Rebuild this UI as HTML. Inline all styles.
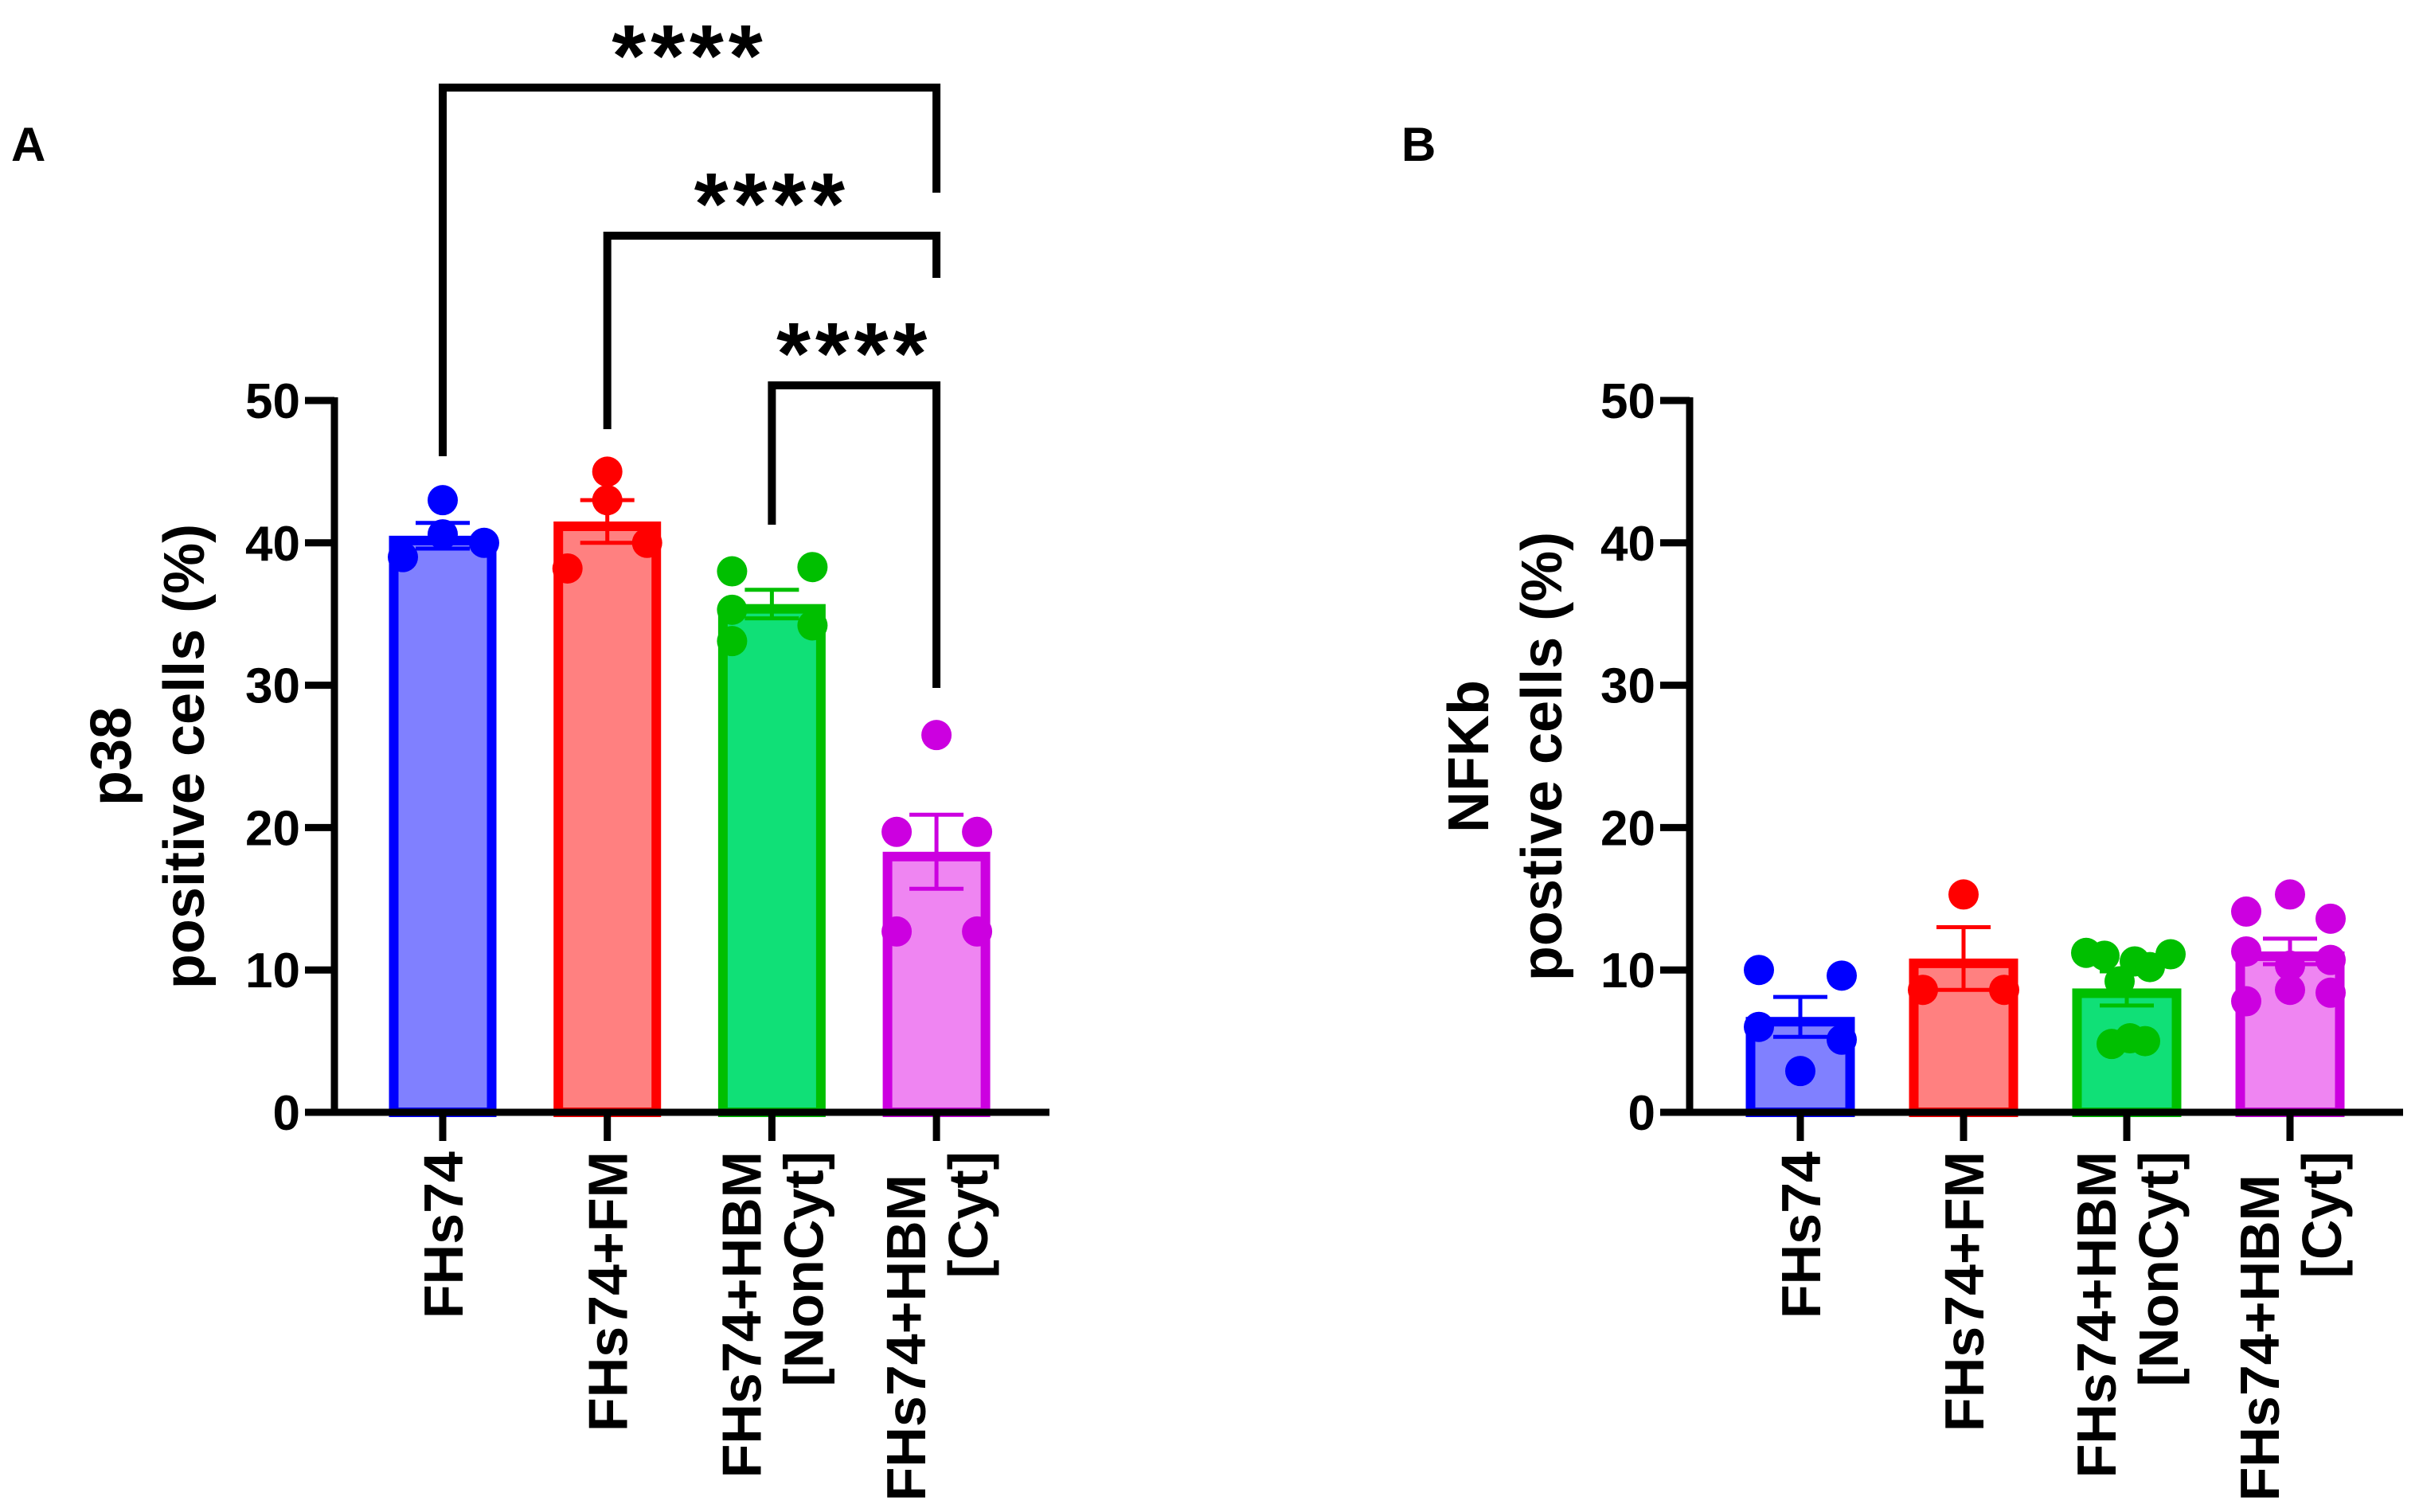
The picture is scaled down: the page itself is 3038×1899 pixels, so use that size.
<!DOCTYPE html>
<html><head><meta charset="utf-8"><style>
html,body{margin:0;padding:0;background:#fff;}
svg{display:block;font-family:"Liberation Sans",Arial,sans-serif;font-weight:bold;}
</style></head><body>
<svg id="chart" width="3038" height="1899" viewBox="0 0 3038 1899" xmlns="http://www.w3.org/2000/svg"></svg>
<script>
const categories = ["FHs74", "FHs74+FM", "FHs74+HBM [NonCyt]", "FHs74+HBM [Cyt]"];
const yTicks = [0, 10, 20, 30, 40, 50];
const meansA = [40.5, 41.5, 35.7, 18.3];
const errsA = [0.9, 1.5, 1.0, 2.6];
const pointsA = [[43.0, 39.0, 40.6, 40.0], [45.0, 43.0, 38.2, 40.0], [38.0, 38.3, 35.3, 33.1, 34.2], [26.5, 19.7, 19.7, 12.7, 12.7]];
const meansB = [6.7, 10.8, 8.7, 11.3];
const errsB = [1.4, 2.2, 1.2, 0.9];
const pointsB = [[10.0, 9.6, 6.0, 5.1, 2.9], [15.3, 8.6, 8.6], [11.2, 11.0, 10.6, 11.1, 10.2, 9.2, 4.8, 5.2, 5.0], [15.3, 14.1, 13.6, 11.3, 10.7, 10.3, 8.6, 8.4, 7.8]];
const sigPairs = [[0, 3], [1, 3], [2, 3]];
const sigLabels = ["****", "****", "****"];

const jitterA = [[0, -50, 0, 52], [0, 0, -50, 50], [-50, 51, -50, -50, 51], [0, -50, 51, -50, 51]];
const jitterB = [[-52, 52, -52, 52, 0], [0, -51, 51], [-51, -28, 10, 55, 29, -9, -19, 4, 23], [0, -55, 51, -55, 51, 0, 0, 51, -55]];
const strokes = ["#0000FF", "#FF0000", "#00BF00", "#CC00E0"];
const fills = ["#8080FF", "#FF8080", "#10E077", "#EF85F2"];

const NS = "http://www.w3.org/2000/svg";
const svg = document.getElementById("chart");
function mk(tag, attrs, parent) {
  const e = document.createElementNS(NS, tag);
  for (const k in attrs) e.setAttribute(k, attrs[k]);
  (parent || svg).appendChild(e);
  return e;
}

function drawPanel(p) {
  const g = mk("g", {});
  
  
  const y0 = 1397, y50 = 503, ymax = 50;
  const yScale = v => y0 - (v / ymax) * (y0 - y50);
  const xScale = i => p.firstX + i * p.step;

  p.means.forEach((m, i) => {
    const s = 12, c = xScale(i), w = p.barW;
    const r = mk("rect", {x: c - w / 2 + s / 2, y: yScale(m) + s / 2, width: w - s, height: y0 - yScale(m) - s / 2, fill: fills[i], stroke: strokes[i], "stroke-width": s}, g);
    
    
  });
  p.points.forEach((arr, i) => {
    arr.forEach((v, j) => {
      const d = mk("circle", {cx: xScale(i) + p.jitter[i][j], cy: yScale(v), r: 19, fill: strokes[i]}, g);
      
      
    });
  });
  p.means.forEach((m, i) => {
    const c = xScale(i), e = p.errs[i];
    const eg = mk("g", {stroke: strokes[i], "stroke-width": 5}, g);
    
    
    mk("line", {x1: c, x2: c, y1: yScale(m + e), y2: yScale(m - e)}, eg);
    mk("line", {x1: c - 34, x2: c + 34, y1: yScale(m + e), y2: yScale(m + e)}, eg);
    mk("line", {x1: c - 34, x2: c + 34, y1: yScale(m - e), y2: yScale(m - e)}, eg);
  });
  const ax = p.axisX;
  const ya = mk("line", {x1: ax, x2: ax, y1: y50 - 4, y2: y0 + 4, stroke: "#000", "stroke-width": 9}, g);
  
  
  const xa = mk("line", {x1: ax - 37, x2: p.axisEnd, y1: y0, y2: y0, stroke: "#000", "stroke-width": 9}, g);
  
  
  yTicks.forEach(t => {
    const y = yScale(t);
    const tl = mk("line", {x1: ax - 37, x2: ax, y1: y, y2: y, stroke: "#000", "stroke-width": 9}, g);
    
    
    const tx = mk("text", {x: ax - 43, y: y + 22, "font-size": 62, "text-anchor": "end"}, g);
    tx.textContent = t;
    
    
  });
  categories.forEach((cat, i) => {
    const c = xScale(i);
    const tk = mk("line", {x1: c, x2: c, y1: y0, y2: y0 + 36, stroke: "#000", "stroke-width": 9}, g);
    
    
    const parts = cat.split(" ");
    const n = parts.length;
    parts.forEach((line, k) => {
      const dx = (k - (n - 1) / 2) * 78;
      const drop = (n === 2 && k === 0 && parts[1] === "[Cyt]") ? 29 : 0;
      const tx = mk("text", {"font-size": 70, "text-anchor": "end", transform: "translate(" + (c + dx + 25) + "," + (1446 + drop) + ") rotate(-90)"}, g);
      tx.textContent = line;
      
      
    });
  });
  p.title.forEach((line, k) => {
    const x = p.titleX[k];
    const tx = mk("text", {"font-size": 72, "text-anchor": "middle", transform: "translate(" + x + ",950) rotate(-90)"}, g);
    tx.textContent = line;
    
    
  });
  const pl = mk("text", {x: p.letterX, y: 202, "font-size": 60}, g);
  pl.textContent = p.letter;
  
  
  return {g, xScale, yScale};
}

const A = drawPanel({name: "panel-a", firstX: 556, step: 206.7, barW: 135, axisX: 420, axisEnd: 1318,
  means: meansA, errs: errsA, points: pointsA, jitter: jitterA,
  title: ["p38", "positive cells (%)"], titleX: [164, 256], letter: "A", letterX: 14});
drawPanel({name: "panel-b", firstX: 2261, step: 205, barW: 137, axisX: 2122, axisEnd: 3018,
  means: meansB, errs: errsB, points: pointsB, jitter: jitterB,
  title: ["NFKb", "postive cells (%)"], titleX: [1869, 1961], letter: "B", letterX: 1760});

const bracketY = [110, 296, 484];
const legEnd = [[573, 242], [539, 349], [659, 864]];
sigPairs.forEach((pr, k) => {
  const x1 = A.xScale(pr[0]), x2 = A.xScale(pr[1]), y = bracketY[k];
  const bg = mk("g", {}, A.g);
  
  
  mk("path", {d: "M" + x1 + "," + legEnd[k][0] + " L" + x1 + "," + y + " L" + x2 + "," + y + " L" + x2 + "," + legEnd[k][1], fill: "none", stroke: "#000", "stroke-width": 10}, bg);
  const st = mk("text", {x: (x1 + x2) / 2, y: y - 2, "font-size": 110, "text-anchor": "middle", "letter-spacing": 6}, bg);
  st.textContent = sigLabels[k];
  
  
});
</script>
</body></html>
